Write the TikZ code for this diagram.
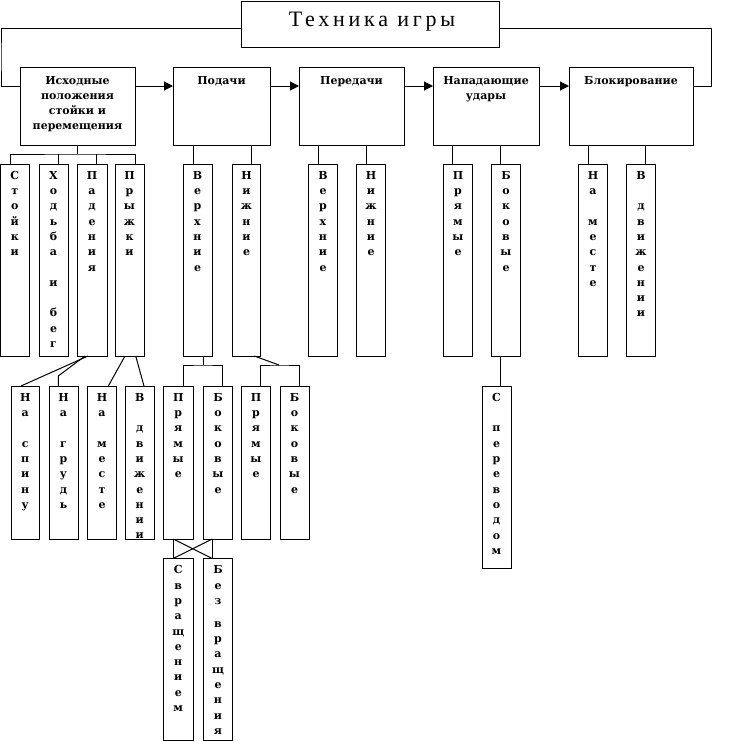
\documentclass[tikz,border=0pt]{standalone}
\usepackage{fontspec}
\setmainfont{Liberation Serif}
\newfontfamily\lblfnt{DejaVu Serif}
\newfontfamily\titlefnt{Liberation Serif}[LetterSpace=17]
\usetikzlibrary{arrows.meta}
\newcommand\mkbox[5]{\node[box, minimum width=#4pt, minimum height=#5pt] (#1) at (#2,#3) {};}
\tikzset{
  box/.style={draw, line width=1pt, anchor=north west, inner sep=0pt, outer sep=0pt},
  lbl/.style={anchor=north, align=center, inner sep=0pt, font=\lblfnt\bfseries\fontsize{11}{15.2}\selectfont},
  col/.style={anchor=north, align=center, inner sep=0pt, font=\lblfnt\bfseries\fontsize{11}{15.3}\selectfont},
  conn/.style={line width=1pt},
  arr/.style={line width=1pt, -{Triangle[length=9pt,width=9pt]}}
}
\begin{document}
\begin{tikzpicture}[x=1pt,y=-1pt]
\useasboundingbox (0,0) rectangle (741,742);
% title
\mkbox{title}{241}{1}{258}{46}
\node[font=\titlefnt\fontsize{22}{26}\selectfont, anchor=base, inner sep=0pt] (titletext) at ([yshift=-2pt,xshift=2pt]title.center) {Техника игры};
% top row
\mkbox{b1}{20}{67}{115}{78}
\mkbox{b2}{173}{67}{97}{78}
\mkbox{b3}{299}{67}{105}{78}
\mkbox{b4}{433}{67}{106}{78}
\mkbox{b5}{569}{67}{124}{78}
\node[lbl] (b1t) at ([yshift=-9pt]b1.north) {Исходные\\положения\\стойки и\\перемещения};
\node[lbl] (b2t) at ([yshift=-9pt]b2.north) {Подачи};
\node[lbl] (b3t) at ([yshift=-9pt]b3.north) {Передачи};
\node[lbl] (b4t) at ([yshift=-9pt]b4.north) {Нападающие\\удары};
\node[lbl] (b5t) at ([yshift=-9pt]b5.north) {Блокирование};
% frame lines from title
\coordinate (lc) at (1,57);
\coordinate (rc) at (711.5,57);
\draw[conn] ([yshift=-4pt]title.west) -| (lc) |- ([yshift=20pt]b1.west);
\draw[conn] ([yshift=-4pt]title.east) -| (rc) |- ([yshift=20pt]b5.east);
% arrows
\draw[arr] ([yshift=20pt]b1.east) -- ([yshift=20pt]b2.west);
\draw[arr] ([yshift=20pt]b2.east) -- ([yshift=20pt]b3.west);
\draw[arr] ([yshift=20pt]b3.east) -- ([yshift=20pt]b4.west);
\draw[arr] ([yshift=20pt]b4.east) -- ([yshift=20pt]b5.west);
% level 1 columns
\mkbox{st}{0.5}{164}{28.5}{192}
\mkbox{hb}{39}{164}{29}{192}
\mkbox{pd}{77}{164}{30}{192}
\mkbox{pr}{115}{164}{29}{192}
\mkbox{pv}{183}{164}{29}{192}
\mkbox{pn}{232.5}{164}{28}{192}
\mkbox{tv}{308.5}{164}{29}{192}
\mkbox{tn}{356.5}{164}{29}{192}
\mkbox{np}{443.5}{164}{29}{192}
\mkbox{nb}{491.5}{164}{29}{192}
\mkbox{bm}{578.5}{164}{29}{192}
\mkbox{bd}{626.5}{164}{29}{192}
\node[col] (stt) at ([yshift=-7pt]st.north) {С\\т\\о\\й\\к\\и};
\node[col] (hbt) at ([yshift=-7pt]hb.north) {Х\\о\\д\\ь\\б\\а\\~\\и\\~\\б\\е\\г};
\node[col] (pdt) at ([yshift=-7pt]pd.north) {П\\а\\д\\е\\н\\и\\я};
\node[col] (prt) at ([yshift=-7pt]pr.north) {П\\р\\ы\\ж\\к\\и};
\node[col] (pvt) at ([yshift=-7pt]pv.north) {В\\е\\р\\х\\н\\и\\е};
\node[col] (pnt) at ([yshift=-7pt]pn.north) {Н\\и\\ж\\н\\и\\е};
\node[col] (tvt) at ([yshift=-7pt]tv.north) {В\\е\\р\\х\\н\\и\\е};
\node[col] (tnt) at ([yshift=-7pt]tn.north) {Н\\и\\ж\\н\\и\\е};
\node[col] (npt) at ([yshift=-7pt]np.north) {П\\р\\я\\м\\ы\\е};
\node[col] (nbt) at ([yshift=-7pt]nb.north) {Б\\о\\к\\о\\в\\ы\\е};
\node[col] (bmt) at ([yshift=-7pt]bm.north) {Н\\а\\~\\м\\е\\с\\т\\е};
\node[col] (bdt) at ([yshift=-7pt]bd.north) {В\\~\\д\\в\\и\\ж\\е\\н\\и\\и};
% level 1 connectors
\coordinate (f1) at (77.5,154);
\draw[conn] (b1.south) -- (f1);
\draw[conn] ([xshift=-4.5pt]st.north) |- (f1) -| ([xshift=5.5pt]pr.north);
\draw[conn] ([xshift=4.8pt]hb.north) -- ++(0,-10);
\draw[conn] ([xshift=4.7pt]pd.north) -- ++(0,-10);
\draw[conn] ([xshift=-4.2pt]pv.north) -- ++(0,-19);
\draw[conn] ([xshift=5.2pt]pn.north) -- ++(0,-19);
\draw[conn] ([xshift=-4.7pt]tv.north) -- ++(0,-19);
\draw[conn] ([xshift=-4.7pt]tn.north) -- ++(0,-19);
\draw[conn] ([xshift=-5.7pt]np.north) -- ++(0,-19);
\draw[conn] ([xshift=-5.7pt]nb.north) -- ++(0,-19);
\draw[conn] ([xshift=-4.7pt]bm.north) -- ++(0,-19);
\draw[conn] ([xshift=4.7pt]bd.north) -- ++(0,-19);
% level 2 boxes
\mkbox{ps}{11}{386}{28.5}{153}
\mkbox{pg}{49}{386}{29}{153}
\mkbox{rm}{87.5}{386}{29}{153}
\mkbox{rd}{125.5}{386}{28.5}{153}
\mkbox{vp}{163.5}{386}{29.5}{153}
\mkbox{vb}{203.5}{386}{29}{153}
\mkbox{np2}{241.5}{386}{29}{153}
\mkbox{nb2}{280}{386}{29}{153}
\mkbox{sp}{482}{386}{29}{182}
\node[col] (pst) at ([yshift=-7pt]ps.north) {Н\\а\\~\\с\\п\\и\\н\\у};
\node[col] (pgt) at ([yshift=-7pt]pg.north) {Н\\а\\~\\г\\р\\у\\д\\ь};
\node[col] (rmt) at ([yshift=-7pt]rm.north) {Н\\а\\~\\м\\е\\с\\т\\е};
\begin{scope}
\clip ([xshift=0.5pt,yshift=0.5pt]rd.south west) rectangle ([xshift=-0.5pt,yshift=-0.5pt]rd.north east);
\node[col] (rdt) at ([yshift=-7pt]rd.north) {В\\~\\д\\в\\и\\ж\\е\\н\\и\\и};
\end{scope}
\node[col] (vpt) at ([yshift=-7pt]vp.north) {П\\р\\я\\м\\ы\\е};
\node[col] (vbt) at ([yshift=-7pt]vb.north) {Б\\о\\к\\о\\в\\ы\\е};
\node[col] (np2t) at ([yshift=-7pt]np2.north) {П\\р\\я\\м\\ы\\е};
\node[col] (nb2t) at ([yshift=-7pt]nb2.north) {Б\\о\\к\\о\\в\\ы\\е};
\node[col] (spt) at ([yshift=-7pt]sp.north) {С\\~\\п\\е\\р\\е\\в\\о\\д\\о\\м};
% level 2 connectors
\draw[conn] ([xshift=-4pt]pd.south) -- ([xshift=-4.25pt]ps.north);
\draw[conn] ([xshift=-7pt]pd.south) -- ([xshift=-5.2pt,yshift=10pt]pg.north) -- ([xshift=-5.2pt]pg.north);
\draw[conn] ([xshift=-4.5pt]pr.south) -- ([xshift=6.3pt]rm.north);
\draw[conn] ([xshift=6.2pt]pr.south) -- ([xshift=4.25pt]rd.north);
\coordinate (f2) at (203.3,365);
\draw[conn] ([xshift=5.8pt]pv.south) -- (f2);
\draw[conn] ([xshift=5pt]vp.north) |- (f2) -| ([xshift=4.3pt]vb.north);
\coordinate (f3) at (279,365);
\draw[conn] ([xshift=7.8pt]pn.south) -- (f3);
\draw[conn] ([xshift=4.7pt]np2.north) |- (f3) -| ([xshift=4.8pt]nb2.north);
\draw[conn] ([xshift=-5.5pt]nb.south) -- ([xshift=4pt]sp.north);
% level 3
\mkbox{sv}{163.5}{558.5}{29.5}{181.5}
\mkbox{bv}{203.5}{558.5}{29}{181.5}
\node[col] (svt) at ([yshift=-7pt]sv.north) {С\\в\\р\\а\\щ\\е\\н\\и\\е\\м};
\node[col] (bvt) at ([yshift=-7pt]bv.north) {Б\\е\\з\\[7.6pt]в\\р\\а\\щ\\е\\н\\и\\я};
\draw[conn] ([xshift=-5pt]vp.south) -- ([xshift=-5pt]sv.north);
\draw[conn] ([xshift=-5.7pt]vb.south) -- ([xshift=-5.7pt]bv.north);
\draw[conn] ([xshift=-5pt]vp.south) -- ([xshift=-5.7pt]bv.north);
\draw[conn] ([xshift=-5.7pt]vb.south) -- ([xshift=-5pt]sv.north);
\end{tikzpicture}
\end{document}
